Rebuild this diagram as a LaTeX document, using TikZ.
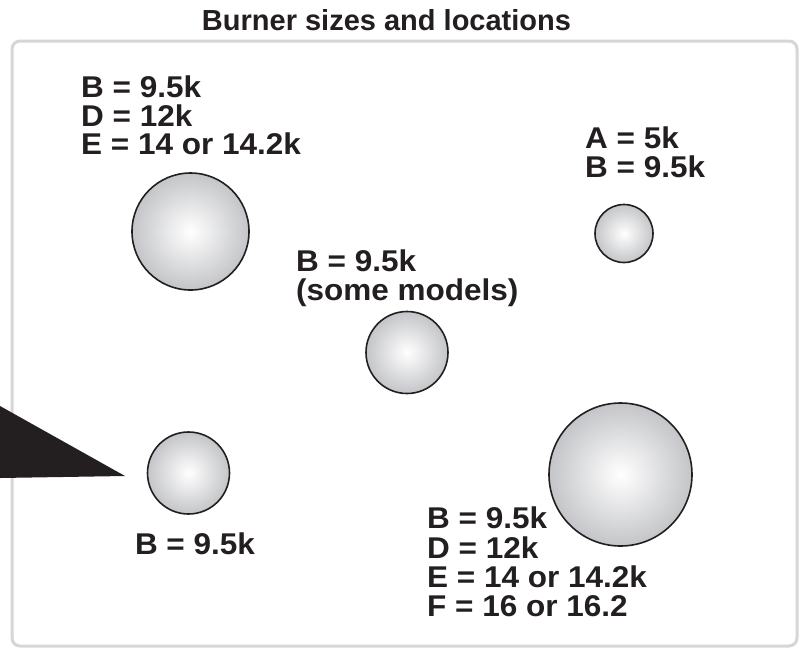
\documentclass[tikz,border=0pt]{standalone}
\usepackage{fontspec}
\newfontfamily\labfont{Liberation Sans}[FakeStretch=1.05]
\newfontfamily\ttlfont{Liberation Sans}
\definecolor{ink}{HTML}{231F20}
\definecolor{framegray}{HTML}{D6D6D7}
\definecolor{rimgray}{HTML}{C4C5C8}
\tikzset{
  burner/.style={circle, draw=ink, line width=1.6pt, inner color=white, outer color=rimgray, inner sep=0pt, minimum size=#1},
  lab/.style={font=\labfont\bfseries\fontsize{30}{28.5}\selectfont, text=ink, align=left, inner sep=0pt, anchor=north west},
  ttl/.style={font=\ttlfont\bfseries\fontsize{29}{30}\selectfont, text=ink, inner sep=0pt, anchor=base}
}
\begin{document}
\begin{tikzpicture}[x=1pt,y=-1pt]
\useasboundingbox (0,0) rectangle (801,649);
\fill[white] (0,0) rectangle (801,649);
\node[ttl] (title) at (386.5,30) {Burner sizes and locations};
\draw[framegray, line width=3pt, rounded corners=8pt] (12,41) rectangle (797,646);
\fill[ink] (0,406) -- (125,476) -- (0,478) -- cycle;
\node[burner=117pt] (b1) at (190.5,231.5) {};
\node[burner=58pt] (b2) at (624,233.5) {};
\node[burner=82pt] (b3) at (407,352.5) {};
\node[burner=82pt] (b4) at (188.5,473) {};
\node[burner=143pt] (b5) at (620.5,474.5) {};
\node[lab] (l1) at (81,76) {B = 9.5k\\D = 12k\\E = 14 or 14.2k};
\node[lab] (l2) at (585,127) {A = 5k\\B = 9.5k};
\node[lab] (l3) at (296,250) {B = 9.5k\\(some models)};
\node[lab, anchor=north] (l4) at (195,533) {B = 9.5k};
\node[lab, font=\labfont\bfseries\fontsize{30}{29.3}\selectfont] (l5) at (427,507) {B = 9.5k\\D = 12k\\E = 14 or 14.2k\\F = 16 or 16.2};
\end{tikzpicture}
\end{document}
